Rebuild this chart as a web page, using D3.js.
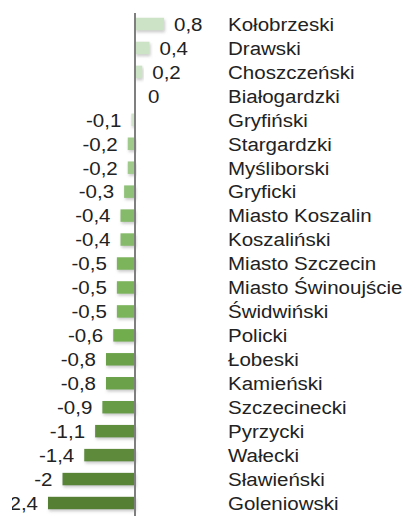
<!DOCTYPE html>
<html>
<head>
<meta charset="utf-8">
<script src="https://cdnjs.cloudflare.com/ajax/libs/d3/7.8.5/d3.min.js"></script>
<style>
  body { margin: 0; background: #fff; }
  text { font-family: "Liberation Sans", Arial, sans-serif; fill: #222; }
</style>
</head>
<body>
<div id="chart"></div>
<script>
// powiaty and their values
var categories = ["Kołobrzeski", "Drawski", "Choszczeński", "Białogardzki", "Gryfiński",
  "Stargardzki", "Myśliborski", "Gryficki", "Miasto Koszalin", "Koszaliński",
  "Miasto Szczecin", "Miasto Świnoujście", "Świdwiński", "Policki", "Łobeski",
  "Kamieński", "Szczecinecki", "Pyrzycki", "Wałecki", "Sławieński", "Goleniowski"];
var values = [0.8, 0.4, 0.2, 0, -0.1, -0.2, -0.2, -0.3, -0.4, -0.4, -0.5, -0.5, -0.5,
  -0.6, -0.8, -0.8, -0.9, -1.1, -1.4, -2, -2.4];
var valueLabels = ["0,8", "0,4", "0,2", "0", "-0,1", "-0,2", "-0,2", "-0,3", "-0,4", "-0,4",
  "-0,5", "-0,5", "-0,5", "-0,6", "-0,8", "-0,8", "-0,9", "-1,1", "-1,4", "-2", "-2,4"];

var width = 407, height = 516;
var stretch = 1.08; // text in the original is a bit wide
var data = categories.map(function(c, i) { return {name: c, v: values[i], label: valueLabels[i]}; });

var svg = d3.select("#chart").append("svg")
    .attr("width", width)
    .attr("height", height);

var defs = svg.append("defs");
var f = defs.append("filter").attr("id", "shadow")
    .attr("x", "-20%").attr("y", "-40%").attr("width", "140%").attr("height", "200%");
f.append("feDropShadow").attr("dx", 1).attr("dy", 2).attr("stdDeviation", 1.5)
    .attr("flood-color", "#888").attr("flood-opacity", 0.45);
defs.append("clipPath").attr("id", "clip")
  .append("rect").attr("x", 12).attr("y", 0).attr("width", width).attr("height", height);

var x = d3.scaleLinear().domain([-2.4, 0.8]).range([48, 164]);
var y = d3.scaleBand().domain(categories).range([12, 515]).paddingInner(0.48).paddingOuter(0.24);

var color = d3.scaleLinear()
    .domain([-2.4, -1.1, -0.6, -0.3, -0.2, -0.1])
    .range(["#557f33", "#5f8f3e", "#72ad4e", "#8fc178", "#9fca8c", "#d2e4ca"]);

var g = svg.append("g").attr("clip-path", "url(#clip)");

g.selectAll("rect.bar")
    .data(data.filter(function(d) { return d.v !== 0; }))
  .enter().append("rect")
    .attr("class", "bar")
    .attr("x", function(d) { return Math.min(x(d.v), x(0)); })
    .attr("y", function(d) { return y(d.name); })
    .attr("width", function(d) { return Math.abs(x(d.v) - x(0)); })
    .attr("height", y.bandwidth())
    .attr("fill", function(d) { return d.v > 0 ? "#cde3c6" : color(d.v); })
    .attr("filter", "url(#shadow)");

// zero line
g.append("line")
    .attr("x1", x(0)).attr("x2", x(0))
    .attr("y1", 13).attr("y2", height)
    .attr("stroke", "#7f7f7f")
    .attr("stroke-width", 2);

function labelX(d) {
  if (d.v < 0) return x(d.v) - 10;
  if (d.v === 0) return x(0) + 13;
  return x(d.v) + 10;
}

g.selectAll("text.val")
    .data(data)
  .enter().append("text")
    .attr("class", "val")
    .attr("transform", function(d) {
      return "translate(" + labelX(d) + "," + (y(d.name) + y.bandwidth() / 2) + ") scale(" + stretch + ",1)";
    })
    .attr("dy", "0.36em")
    .attr("text-anchor", function(d) { return d.v < 0 ? "end" : "start"; })
    .style("font-size", "19px")
    .text(function(d) { return d.label; });

g.selectAll("text.cat")
    .data(data)
  .enter().append("text")
    .attr("class", "cat")
    .attr("transform", function(d) {
      return "translate(228," + (y(d.name) + y.bandwidth() / 2) + ") scale(" + stretch + ",1)";
    })
    .attr("dy", "0.36em")
    .style("font-size", "19px")
    .text(function(d) { return d.name; });
</script>
</body>
</html>
